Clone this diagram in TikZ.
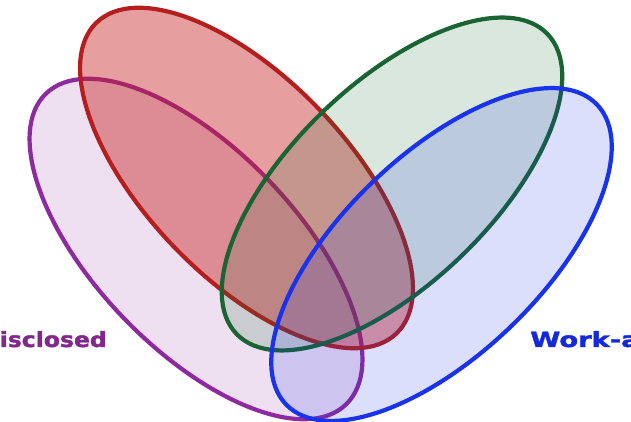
\documentclass[tikz,border=0pt]{standalone}
\usepackage{fontspec}
\newfontfamily\labelfont[FakeBold=1.6]{DejaVu Sans Bold}
\definecolor{redS}{RGB}{180,30,30}
\definecolor{redF}{RGB}{200,30,30}
\definecolor{purS}{RGB}{142,42,160}
\definecolor{purF}{RGB}{140,40,160}
\definecolor{grnS}{RGB}{25,100,50}
\definecolor{grnF}{RGB}{30,110,50}
\definecolor{bluS}{RGB}{25,50,235}
\definecolor{bluF}{RGB}{30,50,230}
\definecolor{purT}{RGB}{130,40,140}
\definecolor{bluT}{RGB}{20,40,220}
\tikzset{
  setshape/.style={line width=4.2pt},
  lbl/.style={inner sep=0pt, font=\labelfont\fontsize{21}{24}\selectfont}
}
\begin{document}
\begin{tikzpicture}[x=1pt,y=1pt]
\useasboundingbox (0,0) rectangle (631,422);
\clip (0,0) rectangle (631,422);
% purple
\draw[setshape, draw=purS, fill=purF, fill opacity=0.15, shift={(196,173)}, rotate=-46] (0,0) ellipse (216 and 100);
% red
\draw[setshape, draw=redS, fill=redF, fill opacity=0.43, shift={(246.5,244)}, rotate=-46] (0,0) ellipse (216 and 100);
% green
\draw[setshape, draw=grnS, fill=grnF, fill opacity=0.17, shift={(392,238)}, rotate=44] (0,0) ellipse (216 and 100);
% blue
\draw[setshape, draw=bluS, fill=bluF, fill opacity=0.155, shift={(441.5,167.5)}, rotate=44] (0,0) ellipse (216 and 100);
\node[lbl, text=purT, anchor=base east, xscale=1.12] (undisc) at (107,75) {isclosed};
\node[lbl, text=bluT, anchor=base west, xscale=1.3] (workaround) at (530,75) {Work-a};
\end{tikzpicture}
\end{document}
